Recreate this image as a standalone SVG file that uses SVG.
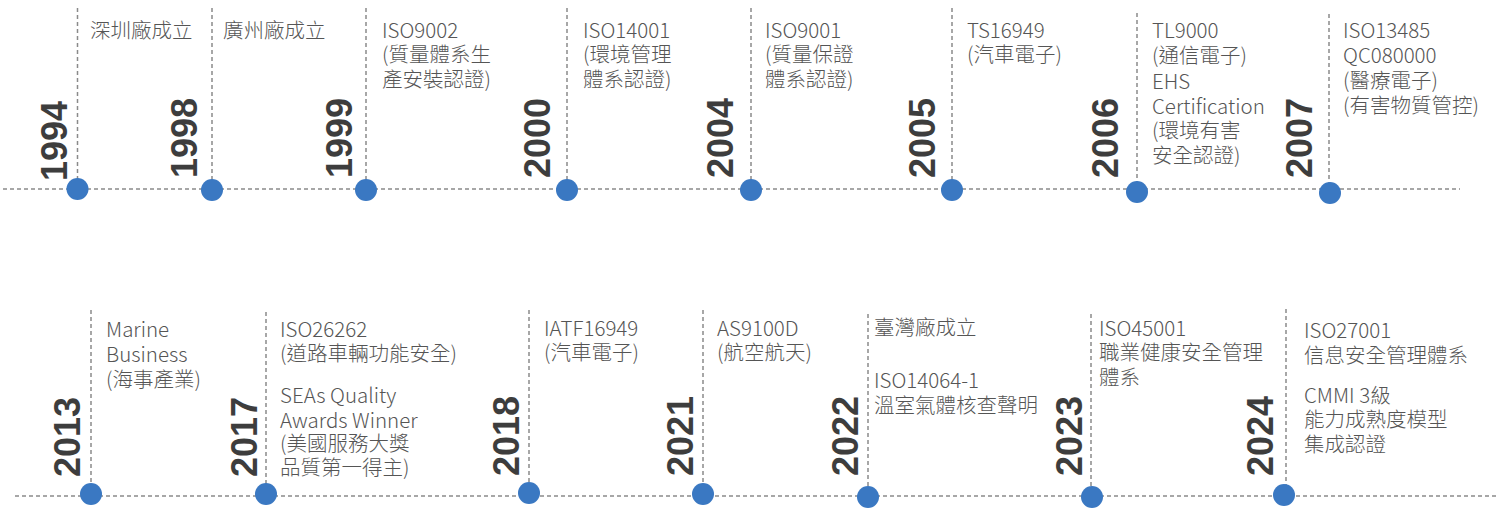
<svg xmlns="http://www.w3.org/2000/svg" width="1496" height="514" viewBox="0 0 1496 514">
<style>
.ax{stroke:#8a8a8a;stroke-width:1.5;stroke-dasharray:4 3;fill:none}
.dot{fill:#3a78c2}
.yr{font-family:"Liberation Sans",Arial,sans-serif;font-weight:bold;font-size:36px;fill:#3d3d3d}
.tx{font-family:"Noto Sans CJK TC Light","Noto Sans CJK TC","Noto Sans",sans-serif;font-weight:300;font-size:20.5px;fill:#555555}
</style>
<rect width="1496" height="514" fill="#ffffff"/>
<g id="connectors">
<line class="ax" x1="3" y1="189" x2="1460" y2="189"/>
<line class="ax" x1="15" y1="496" x2="1496" y2="496"/>
<line class="ax" x1="77.5" y1="8" x2="77.5" y2="189"/>
<line class="ax" x1="212" y1="8" x2="212" y2="190"/>
<line class="ax" x1="366" y1="8" x2="366" y2="190"/>
<line class="ax" x1="567" y1="8" x2="567" y2="190"/>
<line class="ax" x1="751" y1="8" x2="751" y2="190"/>
<line class="ax" x1="952" y1="8" x2="952" y2="190"/>
<line class="ax" x1="1137" y1="13" x2="1137" y2="192"/>
<line class="ax" x1="1329" y1="14" x2="1329" y2="193"/>
<line class="ax" x1="91" y1="310" x2="91" y2="494"/>
<line class="ax" x1="266" y1="312" x2="266" y2="494"/>
<line class="ax" x1="529" y1="310" x2="529" y2="493"/>
<line class="ax" x1="703" y1="310" x2="703" y2="494"/>
<line class="ax" x1="868" y1="314" x2="868" y2="497"/>
<line class="ax" x1="1091" y1="314" x2="1091" y2="497"/>
<line class="ax" x1="1286" y1="309" x2="1286" y2="495"/>
</g>
<g id="n1994"><circle class="dot" cx="77.5" cy="189" r="11"/><text class="yr" transform="translate(67,181) rotate(-90)">1994</text><text class="tx" x="90" y="38">深圳廠成立</text></g>
<g id="n1998"><circle class="dot" cx="212" cy="190" r="11"/><text class="yr" transform="translate(197,178) rotate(-90)">1998</text><text class="tx" x="223" y="38">廣州廠成立</text></g>
<g id="n1999"><circle class="dot" cx="366" cy="190" r="11"/><text class="yr" transform="translate(352,178) rotate(-90)">1999</text><text class="tx" x="382"><tspan x="382" y="38">ISO9002</tspan><tspan x="382" y="62">(質量體系生</tspan><tspan x="382" y="87">產安裝認證)</tspan></text></g>
<g id="n2000"><circle class="dot" cx="567" cy="190" r="11"/><text class="yr" transform="translate(550,178) rotate(-90)">2000</text><text class="tx"><tspan x="583" y="38">ISO14001</tspan><tspan x="583" y="62">(環境管理</tspan><tspan x="583" y="87">體系認證)</tspan></text></g>
<g id="n2004"><circle class="dot" cx="751" cy="190" r="11"/><text class="yr" transform="translate(733,178) rotate(-90)">2004</text><text class="tx"><tspan x="765" y="38">ISO9001</tspan><tspan x="765" y="62">(質量保證</tspan><tspan x="765" y="87">體系認證)</tspan></text></g>
<g id="n2005"><circle class="dot" cx="952" cy="190" r="11"/><text class="yr" transform="translate(935,178) rotate(-90)">2005</text><text class="tx"><tspan x="967" y="38">TS16949</tspan><tspan x="967" y="62">(汽車電子)</tspan></text></g>
<g id="n2006"><circle class="dot" cx="1137" cy="192" r="11"/><text class="yr" transform="translate(1118,178) rotate(-90)">2006</text><text class="tx"><tspan x="1152" y="38">TL9000</tspan><tspan x="1152" y="63">(通信電子)</tspan><tspan x="1152" y="89">EHS</tspan><tspan x="1152" y="114">Certification</tspan><tspan x="1152" y="138">(環境有害</tspan><tspan x="1152" y="163">安全認證)</tspan></text></g>
<g id="n2007"><circle class="dot" cx="1330" cy="193" r="11"/><text class="yr" transform="translate(1312,178) rotate(-90)">2007</text><text class="tx"><tspan x="1343" y="38">ISO13485</tspan><tspan x="1343" y="63">QC080000</tspan><tspan x="1343" y="88">(醫療電子)</tspan><tspan x="1343" y="113">(有害物質管控)</tspan></text></g>
<g id="n2013"><circle class="dot" cx="91" cy="494" r="11"/><text class="yr" transform="translate(80,477) rotate(-90)">2013</text><text class="tx"><tspan x="106" y="337">Marine</tspan><tspan x="106" y="362">Business</tspan><tspan x="106" y="387">(海事產業)</tspan></text></g>
<g id="n2017"><circle class="dot" cx="266" cy="494" r="11"/><text class="yr" transform="translate(257,477) rotate(-90)">2017</text><text class="tx"><tspan x="280" y="337">ISO26262</tspan><tspan x="280" y="361">(道路車輛功能安全)</tspan><tspan x="280" y="403">SEAs Quality</tspan><tspan x="280" y="428">Awards Winner</tspan><tspan x="280" y="451">(美國服務大獎</tspan><tspan x="280" y="475">品質第一得主)</tspan></text></g>
<g id="n2018"><circle class="dot" cx="529" cy="493" r="11"/><text class="yr" transform="translate(519,476) rotate(-90)">2018</text><text class="tx"><tspan x="544" y="336">IATF16949</tspan><tspan x="544" y="360">(汽車電子)</tspan></text></g>
<g id="n2021"><circle class="dot" cx="703" cy="494" r="11"/><text class="yr" transform="translate(693,476) rotate(-90)">2021</text><text class="tx"><tspan x="717" y="336">AS9100D</tspan><tspan x="717" y="360">(航空航天)</tspan></text></g>
<g id="n2022"><circle class="dot" cx="868" cy="497" r="11"/><text class="yr" transform="translate(858,476) rotate(-90)">2022</text><text class="tx"><tspan x="874" y="335">臺灣廠成立</tspan><tspan x="874" y="388">ISO14064-1</tspan><tspan x="874" y="413">溫室氣體核查聲明</tspan></text></g>
<g id="n2023"><circle class="dot" cx="1092" cy="497" r="11"/><text class="yr" transform="translate(1082,476) rotate(-90)">2023</text><text class="tx"><tspan x="1099" y="336">ISO45001</tspan><tspan x="1099" y="360">職業健康安全管理</tspan><tspan x="1099" y="385">體系</tspan></text></g>
<g id="n2024"><circle class="dot" cx="1284" cy="495" r="11"/><text class="yr" transform="translate(1273,476) rotate(-90)">2024</text><text class="tx"><tspan x="1304" y="338">ISO27001</tspan><tspan x="1304" y="363">信息安全管理體系</tspan><tspan x="1304" y="403">CMMI 3級</tspan><tspan x="1304" y="427">能力成熟度模型</tspan><tspan x="1304" y="452">集成認證</tspan></text></g>
</svg>
